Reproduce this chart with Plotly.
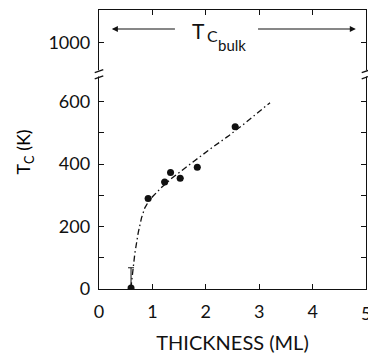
import plotly.graph_objects as go

# ---- data (real values, K and ML) ----
thickness = [0.60, 0.92, 1.23, 1.34, 1.52, 1.84, 2.55]
tc = [3, 290, 343, 373, 355, 390, 520]
tc_err_up = [65, 0, 0, 0, 0, 0, 0]
thick_err = [0, 0.06, 0.06, 0.05, 0.06, 0.05, 0.06]

guide_x = [0.597, 0.628, 0.672, 0.734, 0.796, 0.858, 0.933, 1.014, 1.169,
           1.356, 1.542, 1.791, 2.102, 2.413, 2.724, 3.203]
guide_y = [2, 56, 115, 180, 228, 260, 282, 298, 325, 354, 379, 411, 451,
           489, 530, 597]

tc_bulk = 1043
x_ticks = [0, 1, 2, 3, 4, 5]
y_ticks = [0, 100, 200, 300, 400, 500, 600, 1000]
y_ticklabels = ["0", "", "200", "", "400", "", "600", "1000"]

# broken axis: values above the break are shifted down
BREAK_SHIFT = 210
def disp(v):
    return v if v <= 650 else v - BREAK_SHIFT

FONT = "Lato"
INK = "#111111"

fig = go.Figure()
fig.add_trace(go.Scatter(
    x=guide_x, y=[disp(v) for v in guide_y], mode="lines",
    line=dict(color=INK, width=1.3, dash="6px,3px,1.5px,3px"),
    hoverinfo="skip", showlegend=False))
fig.add_trace(go.Scatter(
    x=thickness, y=[disp(v) for v in tc], mode="markers",
    marker=dict(color=INK, size=7),
    error_y=dict(type="data", symmetric=False, array=tc_err_up,
                 arrayminus=[0]*len(tc), color=INK, thickness=1, width=3),
    error_x=dict(type="data", array=thick_err, color=INK, thickness=1.2, width=0),
    showlegend=False))

axis_common = dict(showgrid=False, zeroline=False, showline=True, linecolor=INK,
                   linewidth=1.4, mirror="ticks", ticks="inside", ticklen=5,
                   tickwidth=1.2, tickcolor=INK,
                   tickfont=dict(family=FONT, size=18, color=INK))

fig.update_xaxes(range=[0, 5], tickvals=x_ticks, ticktext=[str(t) for t in x_ticks],
                 ticklabelstandoff=6,
                 title=dict(text="THICKNESS (ML)", font=dict(family=FONT, size=20, color=INK),
                            standoff=15),
                 **axis_common)
fig.update_yaxes(range=[0, 894], tickvals=[disp(v) for v in y_ticks], ticktext=y_ticklabels,
                 ticklabelstandoff=4, **axis_common)

# last x tick label sits on the page edge (half clipped, as in the original)
fig.add_annotation(x=x_ticks[-1], xref="x", y=0, yref="paper", yshift=-11,
                   text=str(x_ticks[-1]), showarrow=False, yanchor="top",
                   font=dict(family=FONT, size=18, color=INK))

# y title
fig.add_annotation(xref="paper", yref="paper", x=-0.28, y=0.49,
                   text="T<sub>C</sub> (K)", textangle=-90, showarrow=False,
                   font=dict(family=FONT, size=18, color="#000000"),
                   xanchor="center", yanchor="middle")

# Tc bulk arrows and label
yb = disp(tc_bulk)
fig.add_annotation(x=0.24, y=yb, ax=1.45, ay=yb, xref="x", yref="y", axref="x", ayref="y",
                   text="", showarrow=True, arrowhead=2, arrowsize=1.1, arrowwidth=1.1,
                   arrowcolor=INK)
fig.add_annotation(x=4.81, y=yb, ax=2.95, ay=yb, xref="x", yref="y", axref="x", ayref="y",
                   text="", showarrow=True, arrowhead=2, arrowsize=1.1, arrowwidth=1.1,
                   arrowcolor=INK)
fig.add_annotation(x=1.867, y=yb - 5, xref="x", yref="y", text="T", showarrow=False,
                   font=dict(family=FONT, size=21, color=INK))
fig.add_annotation(x=2.12, y=yb - 20, xref="x", yref="y", text="C", showarrow=False,
                   font=dict(family=FONT, size=16, color=INK))
fig.add_annotation(x=2.49, y=yb - 50, xref="x", yref="y", text="bulk", showarrow=False,
                   font=dict(family=FONT, size=15, color=INK))

# axis break marks
yb0 = 687
for xd in (0.0, 1.0):
    fig.add_shape(type="rect", xref="x domain", yref="y", x0=xd - 0.008, x1=xd + 0.008,
                  y0=yb0 - 6, y1=yb0 + 14, fillcolor="white", line=dict(width=0), layer="above")
    for off in (-8, 12):
        fig.add_shape(type="line", xref="x domain", yref="y", x0=xd - 0.016, x1=xd + 0.016,
                      y0=yb0 + off - 6, y1=yb0 + off + 4, line=dict(color=INK, width=1.3),
                      layer="above")

fig.update_layout(width=368, height=354, margin=dict(l=99, r=2, t=10, b=65),
                  plot_bgcolor="white", paper_bgcolor="white",
                  font=dict(family=FONT, color=INK))
fig.write_html("out.html")
